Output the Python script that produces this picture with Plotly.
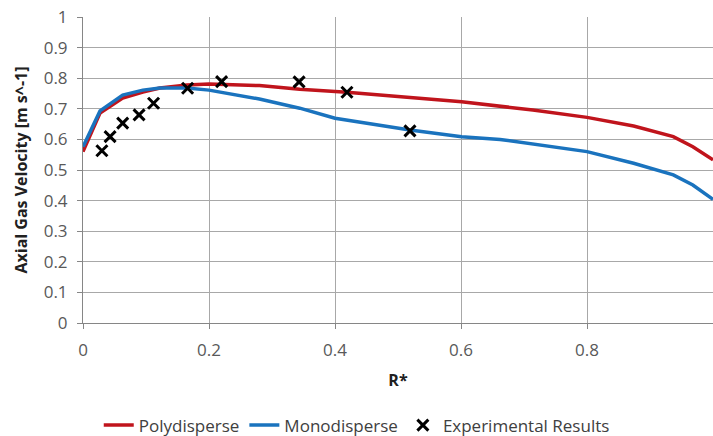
import plotly.graph_objects as go

# Polydisperse curve (red)
poly_r = [0.0, 0.027, 0.063, 0.095, 0.122, 0.165, 0.2, 0.28, 0.344, 0.419, 0.5, 0.601, 0.714, 0.8, 0.874, 0.937, 0.968, 1.0]
poly_v = [0.560, 0.686, 0.735, 0.755, 0.768, 0.778, 0.781, 0.776, 0.764, 0.754, 0.740, 0.723, 0.696, 0.672, 0.644, 0.609, 0.576, 0.533]

# Monodisperse curve (blue)
mono_r = [0.0, 0.027, 0.063, 0.095, 0.122, 0.165, 0.2, 0.28, 0.344, 0.4, 0.519, 0.601, 0.662, 0.8, 0.874, 0.937, 0.968, 1.0]
mono_v = [0.576, 0.693, 0.745, 0.761, 0.768, 0.768, 0.761, 0.732, 0.702, 0.669, 0.631, 0.609, 0.600, 0.560, 0.522, 0.484, 0.451, 0.404]

# Experimental results
exp_r = [0.030, 0.043, 0.063, 0.089, 0.112, 0.166, 0.220, 0.343, 0.419, 0.519]
exp_v = [0.563, 0.609, 0.653, 0.680, 0.718, 0.767, 0.789, 0.788, 0.754, 0.628]

x_ticks = [0, 0.2, 0.4, 0.6, 0.8, 1]
x_labels = ["0", "0.2", "0.4", "0.6", "0.8", "1"]
y_ticks = [0, 0.1, 0.2, 0.3, 0.4, 0.5, 0.6, 0.7, 0.8, 0.9, 1]
y_labels = ["0", "0.1", "0.2", "0.3", "0.4", "0.5", "0.6", "0.7", "0.8", "0.9", "1"]

FONT = "Open Sans"
fig = go.Figure()
fig.add_trace(go.Scatter(x=poly_r, y=poly_v, mode="lines", name="Polydisperse",
                         line=dict(color="#C0141C", width=3.5)))
fig.add_trace(go.Scatter(x=mono_r, y=mono_v, mode="lines", name="Monodisperse",
                         line=dict(color="#1A73BE", width=3.5)))
fig.add_trace(go.Scatter(x=exp_r, y=exp_v, mode="markers", name="Experimental Results",
                         marker=dict(symbol="x-thin", size=11, color="black",
                                     line=dict(color="black", width=3))))

fig.update_layout(
    width=713, height=436,
    margin=dict(l=83, r=0, t=17, b=113, autoexpand=False),
    paper_bgcolor="white", plot_bgcolor="white",
    font=dict(family=FONT, size=17, color="#595959"),
    showlegend=True,
    legend=dict(orientation="h", x=0.025, xanchor="left",
                yref="container", y=0.024, yanchor="middle",
                font=dict(family=FONT, size=17, color="#404040"), itemwidth=30,
                tracegroupgap=0),
)
fig.update_xaxes(range=[0, 1], tickvals=x_ticks, ticktext=x_labels,
                 showgrid=True, gridcolor="#A8A8A8", gridwidth=1,
                 showline=True, linecolor="#868686", linewidth=1,
                 ticks="outside", ticklen=5, tickcolor="#868686",
                 ticklabelstandoff=7, zeroline=False, automargin=False,
                 title=dict(text="<b>R*</b>", standoff=14,
                            font=dict(family=FONT, size=16, color="#202020")))
fig.update_yaxes(range=[0, 1], tickvals=y_ticks, ticktext=y_labels,
                 showgrid=True, gridcolor="#A8A8A8", gridwidth=1,
                 showline=True, linecolor="#868686", linewidth=1,
                 ticks="outside", ticklen=5, tickcolor="#868686",
                 ticklabelstandoff=6, zeroline=False, automargin=False,
                 title=dict(text="<b>Axial Gas Velocity [m s^-1]</b>", standoff=12,
                            font=dict(family=FONT, size=16, color="#202020")))

fig.write_html("out.html", config={"displayModeBar": False},
               post_script="document.body.style.margin='0';document.body.style.overflow='hidden';")
